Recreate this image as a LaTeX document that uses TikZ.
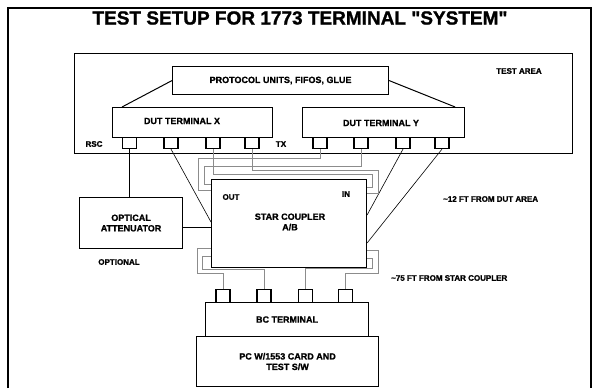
\documentclass[tikz,border=0pt]{standalone}
\usepackage{fontspec}
\setmainfont{Liberation Sans}[Ligatures=TeXOff, BoldFeatures={FakeBold=1.2}]
\usetikzlibrary{calc}
\tikzset{
  box/.style={draw, line width=1.1pt, inner sep=0pt, anchor=north west, align=center},
  conn/.style={draw, line width=1.1pt, minimum width=14pt, minimum height=11pt, inner sep=0pt, anchor=north},
  bconn/.style={conn, minimum height=13pt},
  wire/.style={line width=0.6pt},
  thick wire/.style={line width=1pt},
  fiber/.style={black!45, line width=0.55pt},
  lbl/.style={font=\bfseries\fontsize{9}{10.5}\selectfont, align=center, inner sep=0pt},
  small/.style={font=\bfseries\fontsize{8}{9}\selectfont, inner sep=0pt},
}
\begin{document}
\begin{tikzpicture}[x=1pt,y=-1pt]
\useasboundingbox (0,0) rectangle (594,388);
% outer frame
\draw[line width=1.5pt] (8,388) -- (8,8) -- (591,8) -- (591,388);
\node[font=\bfseries\fontsize{19}{22}\selectfont, inner sep=0pt] (title) at (300,18) {TEST SETUP FOR 1773 TERMINAL "SYSTEM"};

% test area
\node[box, minimum width=498pt, minimum height=100pt] (test) at (74,53) {};
\node[small] (testlbl) at (519,71) {TEST AREA};

% protocol units
\node[box, lbl, minimum width=216pt, minimum height=28pt] (proto) at (172,66) {PROTOCOL UNITS, FIFOS, GLUE};

% DUT terminals
\node[box, minimum width=160pt, minimum height=30pt] (dutx) at (112,107) {};
\node[box, minimum width=162pt, minimum height=30pt] (duty) at (302,107) {};
\node[lbl] (dutxlbl) at (182,121) {DUT TERMINAL X};
\node[lbl] (dutylbl) at (381,123) {DUT TERMINAL Y};

\draw[thick wire] ($(proto.north west)!0.5!(proto.south west)$) -- ($(dutx.north west)+(10,0)$);
\draw[thick wire] ($(proto.north east)!0.5!(proto.south east)$) -- ($(duty.north east)+(-10,0)$);

% connectors
\node[conn] (x1) at (129.5,137) {};
\node[conn] (x2) at (171,137) {};
\node[conn] (x3) at (213,137) {};
\node[conn] (x4) at (252,137) {};
\node[conn] (y1) at (320,137) {};
\node[conn] (y2) at (361,137) {};
\node[conn] (y3) at (403,137) {};
\node[conn] (y4) at (442,137) {};
\node[small] (rsc) at (94,144) {RSC};
\node[small] (tx) at (281,144) {TX};

% optical attenuator
\node[box, lbl, minimum width=103pt, minimum height=51pt] (att) at (79,197) {OPTICAL\\ATTENUATOR};
\node[small] (opt) at (119,262) {OPTIONAL};

% star coupler
\node[box, minimum width=155pt, minimum height=88pt] (star) at (211,179) {};
\node[lbl] (starlbl) at (290,222) {STAR COUPLER\\A/B};
\node[small] (outlbl) at (231,197) {OUT};
\node[small] (inlbl) at (346,194) {IN};

% BC terminal and PC
\node[bconn] (bc1) at (223,289) {};
\node[bconn] (bc2) at (264,289) {};
\node[bconn] (bc3) at (305.5,289) {};
\node[bconn] (bc4) at (345.5,289) {};
\node[box, lbl, minimum width=163pt, minimum height=34pt] (bc) at (205,302) {BC TERMINAL};
\node[box, lbl, minimum width=182pt, minimum height=50pt] (pc) at (196,336) {PC W/1553 CARD AND\\TEST S/W};

% distance labels
\node[small, anchor=west] (d12) at (443,199) {\textasciitilde12 FT FROM DUT AREA};
\node[small, anchor=west] (d75) at (391,278) {\textasciitilde75 FT FROM STAR COUPLER};

% black links
\draw[wire] (x1.south) -- (x1.south |- att.north);
\draw[wire] ($(att.north east)+(0,30)$) -- ($(star.north west)+(0,48)$);
\draw[wire] (x2.south) -- ($(star.north west)+(0,43)$);
\draw[wire] (y3.south) -- ($(star.north east)+(0,36)$);
\draw[wire] (y4.south) -- ($(star.north east)+(0,64)$);

% fibre pairs, upper
\draw[fiber] (y1.south) |- (198,158) -- (198,190) -- ($(star.north west)+(0,11)$);
\draw[fiber] (y2.south) |- (204,166) -- (204,184) -- ($(star.north west)+(0,5)$);
\draw[fiber] (x3.south) |- (372,174) -- (372,187) -- ($(star.north east)+(0,8)$);
\draw[fiber] (x4.south) |- (378,170) -- (378,193) -- ($(star.north east)+(0,14)$);

% fibre pairs, lower
\draw[fiber] ($(star.south west)+(0,-20)$) -| (197,273) -| (bc1.north);
\draw[fiber] ($(star.south west)+(0,-12)$) -| (202,269) -| (bc2.north);
\draw[fiber] ($(star.south east)+(0,-18)$) -| (378,273) -| (bc4.north);
\draw[fiber] ($(star.south east)+(0,-10)$) -| (372,268) -| (bc3.north);
\end{tikzpicture}
\end{document}
